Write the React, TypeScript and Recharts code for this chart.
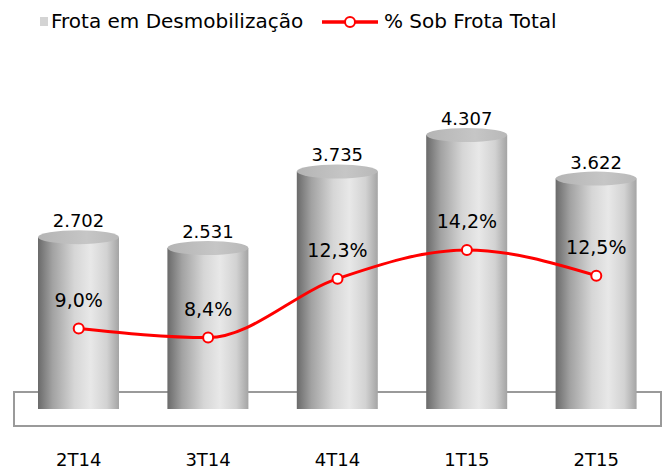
import React from 'react';
import { ComposedChart, Bar, Line, XAxis, YAxis, LabelList, ReferenceArea } from 'recharts';

const categories = ['2T14', '3T14', '4T14', '1T15', '2T15'];
const fleetValues = [2702, 2531, 3735, 4307, 3622];
const shareValues = [9.0, 8.4, 12.3, 14.2, 12.5];
const fleetLabels = ['2.702', '2.531', '3.735', '4.307', '3.622'];
const shareLabels = ['9,0%', '8,4%', '12,3%', '14,2%', '12,5%'];
const seriesNames = ['Frota em Desmobilização', '% Sob Frota Total'];

const data = categories.map((c, i) => ({
  cat: c,
  fleet: fleetValues[i],
  share: shareValues[i],
  fleetLabel: fleetLabels[i],
  shareLabel: shareLabels[i],
}));

const FONT = '"DejaVu Sans", Verdana, sans-serif';
const RY = 7;

const Cylinder = (props: any) => {
  const { x, y, width, height } = props;
  const rx = width / 2;
  const cx = x + rx;
  const bottom = y + height;
  const d = `M${x},${y} L${x},${bottom} A${rx},${RY} 0 0 0 ${x + width},${bottom} L${x + width},${y} Z`;
  return (
    <g>
      <path d={d} fill="url(#cylBody)" />
      <ellipse cx={cx} cy={y} rx={rx} ry={RY} fill="url(#cylTop)" />
    </g>
  );
};

const FleetLabel = (props: any) => {
  const { x, y, width, value } = props;
  return (
    <text x={x + width / 2} y={y - 10} textAnchor="middle" fontSize={18} fontFamily={FONT} fill="#000">
      {value}
    </text>
  );
};

const ShareLabel = (props: any) => {
  const { x, y, value } = props;
  return (
    <text x={x} y={y - 22} textAnchor="middle" fontSize={19} fontFamily={FONT} fill="#000">
      {value}
    </text>
  );
};

const XTick = (props: any) => {
  const { x, y, payload } = props;
  return (
    <text x={x} y={y + 57} textAnchor="middle" fontSize={18} fontFamily={FONT} fill="#000">
      {payload.value}
    </text>
  );
};

export default function App() {
  return (
    <div style={{ position: 'absolute', left: 0, top: 0, width: 667, height: 471, background: '#fff' }}>
      <ComposedChart
        width={667}
        height={471}
        data={data}
        margin={{ top: 60, right: 6, bottom: 32, left: 14 }}
        style={{ position: 'absolute', left: 0, top: 0 }}
      >
        <defs>
          <linearGradient id="cylBody" x1="0" y1="0" x2="1" y2="0">
            <stop offset="0%" stopColor="#6a6a6a" />
            <stop offset="18%" stopColor="#a2a2a2" />
            <stop offset="45%" stopColor="#d6d6d6" />
            <stop offset="65%" stopColor="#e8e8e8" />
            <stop offset="85%" stopColor="#d2d2d2" />
            <stop offset="100%" stopColor="#a4a4a4" />
          </linearGradient>
          <linearGradient id="cylTop" x1="0" y1="0" x2="1" y2="0">
            <stop offset="0%" stopColor="#b4b4b4" />
            <stop offset="60%" stopColor="#c6c6c6" />
            <stop offset="100%" stopColor="#b8b8b8" />
          </linearGradient>
        </defs>
        <XAxis
          dataKey="cat"
          axisLine={false}
          tickLine={false}
          tickSize={0}
          tickMargin={0}
          height={30}
          tick={<XTick />}
          interval={0}
        />
        <YAxis yAxisId="l" hide domain={[0, 5487]} allowDataOverflow />
        <YAxis yAxisId="r" hide orientation="right" domain={[3.67, 26.78]} allowDataOverflow />
        <ReferenceArea
          yAxisId="l"
          x1="2T14"
          x2="2T15"
          y1={-267}
          y2={267}
          ifOverflow="visible"
          fill="none"
          fillOpacity={0}
          stroke="#9a9a9a"
          strokeWidth={2}
        />
        <Bar yAxisId="l" dataKey="fleet" barSize={81} shape={<Cylinder />} isAnimationActive={false}>
          <LabelList dataKey="fleetLabel" content={<FleetLabel />} />
        </Bar>
        <Line
          yAxisId="r"
          type="monotone"
          dataKey="share"
          stroke="#ff0000"
          strokeWidth={3}
          dot={{ r: 5, fill: '#fff', stroke: '#ff0000', strokeWidth: 2 }}
          activeDot={false}
          isAnimationActive={false}
        >
          <LabelList dataKey="shareLabel" content={<ShareLabel />} />
        </Line>
      </ComposedChart>
      <svg width={667} height={50} style={{ position: 'absolute', left: 0, top: 0 }}>
        <rect x={40} y={17} width={8} height={9} fill="#d4d4d4" />
        <text x={51} y={28} fontSize={20} fontFamily={FONT} fill="#000">{seriesNames[0]}</text>
        <line x1={322} y1={22} x2={378} y2={22} stroke="#ff0000" strokeWidth={3.5} />
        <circle cx={350} cy={22} r={5} fill="#fff" stroke="#ff0000" strokeWidth={2} />
        <text x={384} y={28} fontSize={20} fontFamily={FONT} fill="#000">{seriesNames[1]}</text>
      </svg>
    </div>
  );
}
